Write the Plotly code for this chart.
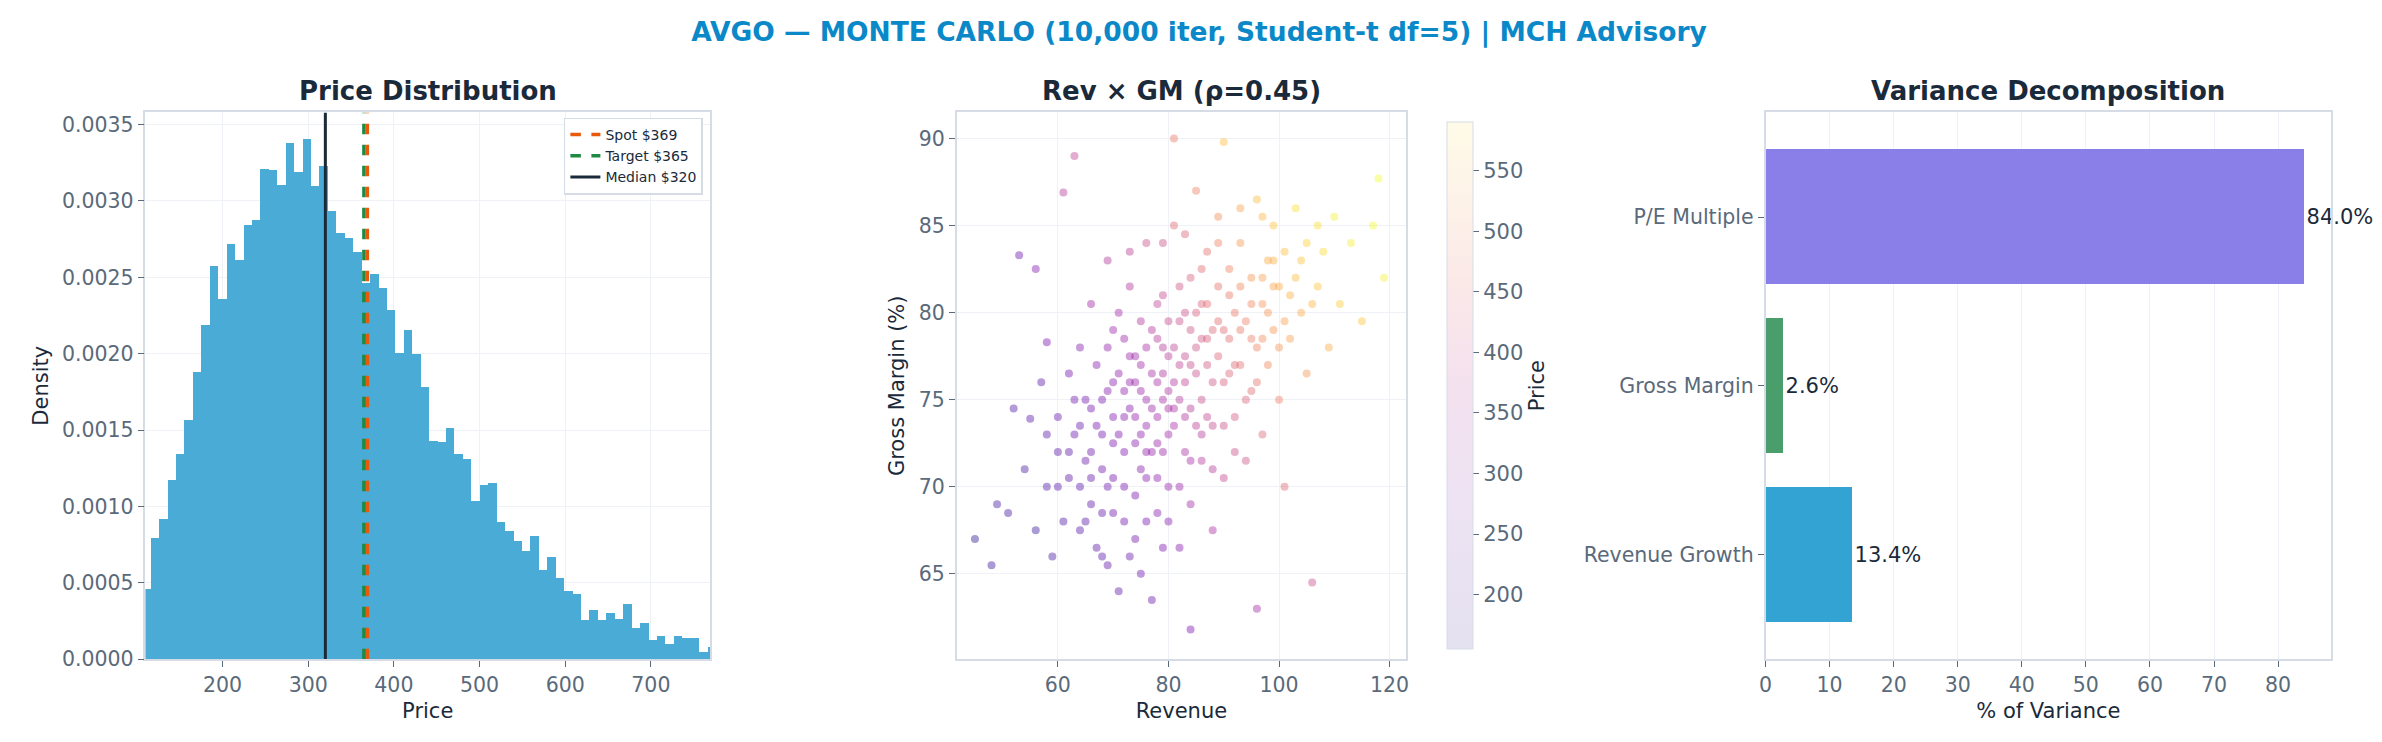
import plotly.graph_objects as go

# ---------------- data ----------------
BIN_START = 106.8
BIN_WIDTH = 9.85
density = [0.00046, 0.000793, 0.000915, 0.00117, 0.001344, 0.001562, 0.00188, 0.002183,
           0.002569, 0.002357, 0.002717, 0.002614, 0.00284, 0.002872, 0.003205, 0.0032,
           0.003104, 0.003374, 0.003187, 0.003406, 0.003097, 0.003226, 0.002929, 0.002787,
           0.002755, 0.002663, 0.00246, 0.002517, 0.002427, 0.002285, 0.002002, 0.00215,
           0.001996, 0.001777, 0.001427, 0.00142, 0.001511, 0.001339, 0.001305, 0.00103,
           0.001137, 0.00115, 0.000893, 0.000835, 0.00077, 0.000706, 0.000803, 0.000584,
           0.000667, 0.000532, 0.000442, 0.000423, 0.000251, 0.00032, 0.000251, 0.0003,
           0.000258, 0.000358, 0.0002, 0.000236, 0.00012, 0.000146, 0.0001, 0.000152,
           0.000133, 0.000133, 0.000043, 0.00008]
SPOT = 369
TARGET = 365
MEDIAN = 320

scatter_pts = [
    (45,67,170),(48,65.5,180),(49,69,190),(51,68.5,185),(52,74.5,200),(53,83.3,230),(54,71,195),
    (55,73.9,210),(56,82.5,260),(56,67.5,180),(57,76,215),(58,70,200),(58,78.3,250),(59,66,190),
    (60,72,215),(60,74,225),(61,86.9,330),(61,68,200),(62,70.5,215),(62,76.5,240),(63,73,230),
    (63,89,340),(64,78,260),(64,67.5,205),(65,71.5,230),(65,75,245),(66,69,220),(66,80.5,290),
    (67,73.5,245),(67,77,265),(68,71,235),(68,66,210),(69,83,320),(69,75.5,260),(70,72.5,250),
    (70,68.5,230),(70,79,290),(71,64,215),(71,76.5,275),(72,74,265),(72,70,245),(73,81.5,320),
    (73,77.5,290),(74,72.5,265),(74,67,240),(75,75.5,290),(75,79.5,320),(76,73.5,280),(76,70.5,265),
    (76,84,360),(77,76.5,305),(77,63.5,230),(78,74,295),(78,78.5,330),(78,68.5,265),(79,81,350),
    (79,72,285),(80,75.5,315),(80,77.5,335),(80,70,280),(81,73.5,305),(81,85,400),(81,90,430),
    (82,79.5,360),(82,66.5,260),(83,76,340),(83,72,310),(84,82,390),(84,74.5,330),(84,69,300),
    (84,61.8,250),(85,78,370),(85,87,440),(86,75,355),(86,80.5,395),(86,71.5,325),(87,83.5,420),
    (87,77,375),(88,73.5,350),(88,79,400),(88,67.5,310),(89,81.5,420),(89,85.5,460),(90,76,385),
    (90,89.8,520),(90,70.5,345),(91,78.5,410),(91,82.5,445),(92,74,380),(92,80,430),(93,84,475),
    (93,77,415),(94,71.5,370),(94,79.5,440),(95,82,470),(95,75.5,410),(96,86.5,520),(96,78,445),
    (96,63,300),(97,80.5,470),(97,73,400),(98,83,500),(98,77,450),(99,79,470),(99,85,530),
    (100,81.5,500),(100,75,440),(101,83.5,520),(101,70,400),(102,78.5,480),(103,82,520),(103,86,560),
    (104,80,500),(105,84,545),(105,76.5,470),(106,64.5,360),(107,81.5,530),(108,83.5,555),(109,78,500),
    (110,85.5,580),(111,80.5,540),(113,84,575),(115,79.5,530),(117,85,590),(119,82,580),(118,87.7,600),
    (74,74,275),(76,75,290),(78,76,305),(72,72,255),(80,73,295),(82,77,340),(75,71,265),(70,74,260),
    (85,80,385),(79,78,325),(83,74,320),(68,73,240),(77,72,280),(73,76,280),(81,76,320),(87,74,345),
    (66,72,230),(90,79,410),(92,77,400),(69,70,235),
    (71,73,250),(73,74.5,262),(75,73,270),(77,74.5,290),(79,75,305),(81,74.5,310),(83,77.5,350),
    (85,76.5,360),(87,78.5,385),(89,77.5,395),(91,76.5,395),(93,79,430),(95,80.5,450),(97,78.5,455),
    (99,81.5,490),(101,79.5,480),(86,82.5,410),(84,79,370),(82,81.5,370),(80,79.5,350),(78,80.5,340),
    (76,78,305),(74,77.5,290),(72,78.5,290),(70,76,265),(68,75,250),(66,74.5,240),(64,73.5,225),
    (62,72,215),(64,70,210),(66,70.5,220),(68,68.5,220),(70,70.5,240),(72,68,235),(74,69.5,250),
    (76,68,250),(78,70.5,270),(80,68,265),(82,70,285),(84,71.5,305),(86,73,330),(88,71,330),
    (90,73.5,360),(92,72,360),(94,75,395),(96,76,420),(98,80,470),(100,78,465),(88,76,370),
    (86,78.5,375),(84,77,355),(82,75,325),(80,74.5,305),(78,72.5,285),(76,72,275),(74,76,285),
    (72,75.5,275),(75,77,295),(77,79,320),(79,76.5,315),(81,78,340),(83,80,365),(85,73.5,335),
    (87,80.5,405),(89,79.5,410),(91,81,430),(93,81.5,450),(95,78.5,435),(97,82,480),(99,83,505),
    (102,81,505),(104,83,530),(106,80.5,510),(60,70,205),(58,73,210),(63,75,235),(65,68,210),
    (67,66.5,215),(69,65.5,220),(73,66,230),(75,65,235),(79,66.5,250),(71,80,295),(69,78,275),
    (73,83.5,335),(79,84,365),(83,84.5,395),(89,84,445),(93,86,490),(97,85.5,510),(107,85,560),
]
revenue = [p[0] for p in scatter_pts]
gross_margin = [p[1] for p in scatter_pts]
price = [p[2] for p in scatter_pts]
PRICE_MIN, PRICE_MAX = 155, 590

var_labels = ["Revenue Growth", "Gross Margin", "P/E Multiple"]
var_values = [13.4, 2.6, 84.0]
var_colors = ["#33a3d3", "#4a9e6b", "#8a7fe8"]

# ---------------- figure ----------------
FONT = "DejaVu Sans"
TICK = "#5a6a7a"
FRAME = "#d5dce6"
GRID = "#eef1f5"
TITLE_C = "#1a2a3a"

fig = go.Figure()

centers = [BIN_START + BIN_WIDTH * (i + 0.5) for i in range(len(density))]
fig.add_trace(go.Bar(x=centers, y=density, width=BIN_WIDTH, marker=dict(color="#4aabd6", line=dict(width=0)),
                     showlegend=False, xaxis="x", yaxis="y"))
YTOP = 0.00358
fig.add_trace(go.Scatter(x=[SPOT, SPOT], y=[0, YTOP], mode="lines", name=f"Spot ${SPOT}",
                         line=dict(color="#e8590c", width=3.5, dash="dash"), xaxis="x", yaxis="y"))
fig.add_trace(go.Scatter(x=[TARGET, TARGET], y=[0, YTOP], mode="lines", name=f"Target ${TARGET}",
                         line=dict(color="#1e8a44", width=3.5, dash="dash"), xaxis="x", yaxis="y"))
fig.add_trace(go.Scatter(x=[MEDIAN, MEDIAN], y=[0, YTOP], mode="lines", name=f"Median ${MEDIAN}",
                         line=dict(color="#1a2a3a", width=3), xaxis="x", yaxis="y"))

fig.add_trace(go.Scatter(x=revenue, y=gross_margin, mode="markers", showlegend=False,
                         marker=dict(color=price, colorscale="Plasma", cmin=PRICE_MIN, cmax=PRICE_MAX,
                                     size=8, opacity=0.4, line=dict(width=0)),
                         xaxis="x2", yaxis="y2"))
pale = [[0, "#e4e1f0"], [0.3, "#eee3f3"], [0.5, "#f4e1ef"], [0.7, "#fbe9e8"], [1, "#fffbe8"]]
fig.add_trace(go.Scatter(x=[None, None], y=[None, None], mode="markers", showlegend=False,
                         marker=dict(color=[PRICE_MIN, PRICE_MAX], colorscale=pale, cmin=PRICE_MIN, cmax=PRICE_MAX,
                                     showscale=True,
                                     colorbar=dict(x=0.5995, xanchor="left", y=0.108, yanchor="bottom",
                                                   len=0.749, lenmode="fraction", thickness=26,
                                                   outlinewidth=1, outlinecolor=FRAME,
                                                   tickvals=[200, 250, 300, 350, 400, 450, 500, 550],
                                                   ticks="outside", ticklen=6, tickcolor=TICK,
                                                   tickfont=dict(size=21, color=TICK, family=FONT),
                                                   title=dict(text="Price", side="right",
                                                              font=dict(size=21, color=TITLE_C, family=FONT)))),
                         xaxis="x2", yaxis="y2"))

fig.add_trace(go.Bar(y=var_labels, x=var_values, orientation="h", width=0.8,
                     marker=dict(color=var_colors, line=dict(width=0)),
                     text=[f"{v:.1f}%" for v in var_values], textposition="outside",
                     textfont=dict(size=21, color=TITLE_C, family=FONT), cliponaxis=False,
                     showlegend=False, xaxis="x3", yaxis="y3"))

def ax(**kw):
    d = dict(showline=True, mirror=True, linecolor=FRAME, linewidth=1.5, gridcolor=GRID, zeroline=False,
             ticks="outside", ticklen=6, tickcolor=TICK, tickfont=dict(size=20.5, color=TICK, family=FONT))
    d.update(kw)
    return d

def atitle(t):
    return dict(text=t, font=dict(size=21, color=TITLE_C, family=FONT), standoff=8)

YD = [0.108, 0.857]
fig.update_layout(
    width=2382, height=742, margin=dict(l=0, r=0, t=0, b=0),
    paper_bgcolor="white", plot_bgcolor="white", bargap=0,
    font=dict(family=FONT),
    title=dict(text="<b>AVGO — MONTE CARLO (10,000 iter, Student-t df=5) | MCH Advisory</b>",
               x=0.5, xanchor="center", y=0.968, yanchor="middle",
               font=dict(size=26.5, color="#0a88c8", family=FONT)),
    xaxis=ax(domain=[0.055, 0.293], range=[110, 769], tickvals=[200, 300, 400, 500, 600, 700],
             title=atitle("Price"), anchor="y"),
    yaxis=ax(domain=YD, range=[0, YTOP], tickvals=[0, 0.0005, 0.001, 0.0015, 0.002, 0.0025, 0.003, 0.0035],
             tickformat=".4f", title=atitle("Density"), anchor="x"),
    xaxis2=ax(domain=[0.397, 0.5865], range=[41.7, 123], tickvals=[60, 80, 100, 120],
              title=atitle("Revenue"), anchor="y2"),
    yaxis2=ax(domain=YD, range=[60.1, 91.5], tickvals=[65, 70, 75, 80, 85, 90],
              title=atitle("Gross Margin (%)"), anchor="x2"),
    xaxis3=ax(domain=[0.738, 0.9765], range=[0, 88.3], tickvals=list(range(0, 90, 10)),
              title=atitle("% of Variance"), anchor="y3"),
    yaxis3=ax(domain=YD, range=[-0.62, 2.62], showgrid=False, anchor="x3"),
    legend=dict(x=0.290, xanchor="right", y=0.85, yanchor="top", bgcolor="rgba(255,255,255,0.9)",
                bordercolor=FRAME, borderwidth=1.5, font=dict(size=14, color=TITLE_C, family=FONT),
                tracegroupgap=0),
)

for x0, x1, t in [(0.055, 0.293, "Price Distribution"), (0.397, 0.5865, "Rev × GM (ρ=0.45)"),
                  (0.738, 0.9765, "Variance Decomposition")]:
    fig.add_annotation(text=f"<b>{t}</b>", x=(x0 + x1) / 2, y=0.857, xref="paper", yref="paper",
                       xanchor="center", yanchor="bottom", yshift=4, showarrow=False,
                       font=dict(size=26, color=TITLE_C, family=FONT))

fig.write_html("out.html")
